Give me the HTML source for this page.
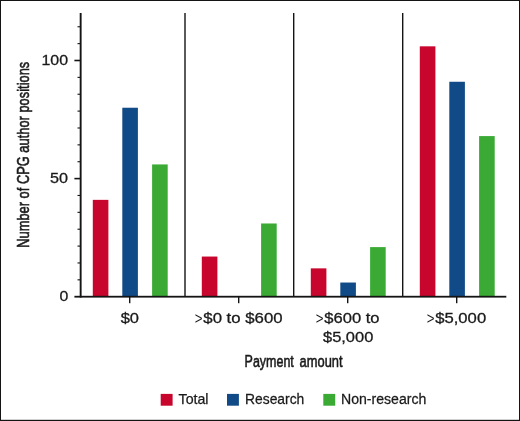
<!DOCTYPE html><html><head><meta charset="utf-8"><title>Chart</title><style>html,body{margin:0;padding:0;background:#fff}svg{display:block}text{font-family:"Liberation Sans",Arial,sans-serif;fill:#1a1a1a}</style></head><body>
<svg width="520" height="421" viewBox="0 0 520 421">
<rect x="0" y="0" width="520" height="421" fill="#fff"/>
<rect x="0" y="0" width="520" height="1" fill="#141414"/>
<rect x="0" y="0" width="1" height="421" fill="#141414"/>
<rect x="519" y="0" width="1" height="421" fill="#141414"/>
<rect x="0" y="419.8" width="520" height="1.2" fill="#141414"/>
<rect x="92.80" y="199.86" width="15.6" height="96.84" fill="#C8052C"/>
<rect x="122.30" y="107.74" width="15.6" height="188.96" fill="#114B87"/>
<rect x="152.10" y="164.43" width="15.6" height="132.27" fill="#3AAA35"/>
<rect x="201.80" y="256.55" width="15.6" height="40.15" fill="#C8052C"/>
<rect x="261.10" y="223.48" width="15.6" height="73.22" fill="#3AAA35"/>
<rect x="310.80" y="268.36" width="15.6" height="28.34" fill="#C8052C"/>
<rect x="340.30" y="282.53" width="15.6" height="14.17" fill="#114B87"/>
<rect x="370.10" y="247.10" width="15.6" height="49.60" fill="#3AAA35"/>
<rect x="419.80" y="46.33" width="15.6" height="250.37" fill="#C8052C"/>
<rect x="449.30" y="81.76" width="15.6" height="214.94" fill="#114B87"/>
<rect x="479.10" y="136.08" width="15.6" height="160.62" fill="#3AAA35"/>
<rect x="184.30" y="13" width="1.4" height="283.5" fill="#141414"/>
<rect x="293.00" y="13" width="1.4" height="283.5" fill="#141414"/>
<rect x="402.00" y="13" width="1.4" height="283.5" fill="#141414"/>
<rect x="79.7" y="13" width="1.9" height="284.6" fill="#141414"/>
<rect x="74.4" y="295.8" width="431.9" height="1.8" fill="#141414"/>
<rect x="77.5" y="279.28" width="3" height="1.1" fill="#141414"/>
<rect x="77.5" y="262.41" width="3" height="1.1" fill="#141414"/>
<rect x="77.5" y="245.54" width="3" height="1.1" fill="#141414"/>
<rect x="77.5" y="228.66" width="3" height="1.1" fill="#141414"/>
<rect x="77.5" y="211.79" width="3" height="1.1" fill="#141414"/>
<rect x="77.5" y="194.92" width="3" height="1.1" fill="#141414"/>
<rect x="74.4" y="177.80" width="6" height="1.6" fill="#141414"/>
<rect x="77.5" y="161.18" width="3" height="1.1" fill="#141414"/>
<rect x="77.5" y="144.31" width="3" height="1.1" fill="#141414"/>
<rect x="77.5" y="127.44" width="3" height="1.1" fill="#141414"/>
<rect x="77.5" y="110.56" width="3" height="1.1" fill="#141414"/>
<rect x="77.5" y="93.69" width="3" height="1.1" fill="#141414"/>
<rect x="77.5" y="76.82" width="3" height="1.1" fill="#141414"/>
<rect x="74.4" y="59.70" width="6" height="1.6" fill="#141414"/>
<rect x="77.5" y="43.08" width="3" height="1.1" fill="#141414"/>
<rect x="77.5" y="26.21" width="3" height="1.1" fill="#141414"/>
<rect x="129.00" y="297" width="1.4" height="6.2" fill="#141414"/>
<rect x="238.00" y="297" width="1.4" height="6.2" fill="#141414"/>
<rect x="347.00" y="297" width="1.4" height="6.2" fill="#141414"/>
<rect x="456.00" y="297" width="1.4" height="6.2" fill="#141414"/>
<text transform="translate(41.50,65.30) scale(1.0627,1)" font-size="15.0" stroke="#1a1a1a" stroke-width="0.3">100</text>
<text transform="translate(50.00,183.40) scale(1.0787,1)" font-size="15.0" stroke="#1a1a1a" stroke-width="0.3">50</text>
<text transform="translate(59.40,301.40) scale(1.0547,1)" font-size="15.0" stroke="#1a1a1a" stroke-width="0.3">0</text>
<text transform="translate(120.70,323.10) scale(1.0966,1)" font-size="15.0" stroke="#1a1a1a" stroke-width="0.3">$0</text>
<text transform="translate(194.80,323.60) scale(0.7740,1)" font-size="17.25" >&gt;</text>
<text transform="translate(203.30,323.10) scale(1.1198,1)" font-size="15.0" stroke="#1a1a1a" stroke-width="0.3">$0 to $600</text>
<text transform="translate(315.80,323.60) scale(0.7740,1)" font-size="17.25" >&gt;</text>
<text transform="translate(324.30,323.10) scale(1.1050,1)" font-size="15.0" stroke="#1a1a1a" stroke-width="0.3">$600 to</text>
<text transform="translate(323.00,341.90) scale(1.0965,1)" font-size="15.0" stroke="#1a1a1a" stroke-width="0.3">$5,000</text>
<text transform="translate(426.70,323.60) scale(0.7740,1)" font-size="17.25" >&gt;</text>
<text transform="translate(435.20,323.10) scale(1.1117,1)" font-size="15.0" stroke="#1a1a1a" stroke-width="0.3">$5,000</text>
<text transform="translate(244.60,367.30) scale(0.7169,1)" font-size="17.4" stroke="#1a1a1a" stroke-width="0.6">Payment</text>
<text transform="translate(299.60,367.30) scale(0.7414,1)" font-size="17.4" stroke="#1a1a1a" stroke-width="0.6">amount</text>
<text transform="translate(29.4,247.80) rotate(-90) scale(0.7405,1)" font-size="17.4" stroke="#1a1a1a" stroke-width="0.6">Number of CPG author positions</text>
<rect x="160.7" y="393.9" width="11.9" height="11.8" fill="#C8052C"/>
<text transform="translate(178.55,404.40) scale(1.0000,1)" font-size="14.2" stroke="#1a1a1a" stroke-width="0.25">Total</text>
<rect x="227" y="393.9" width="11.9" height="11.8" fill="#114B87"/>
<text transform="translate(245.00,404.40) scale(0.9770,1)" font-size="14.2" stroke="#1a1a1a" stroke-width="0.25">Research</text>
<rect x="323.3" y="393.9" width="11.9" height="11.8" fill="#3AAA35"/>
<text transform="translate(341.00,404.40) scale(0.9930,1)" font-size="14.2" stroke="#1a1a1a" stroke-width="0.25">Non-research</text>
</svg></body></html>
